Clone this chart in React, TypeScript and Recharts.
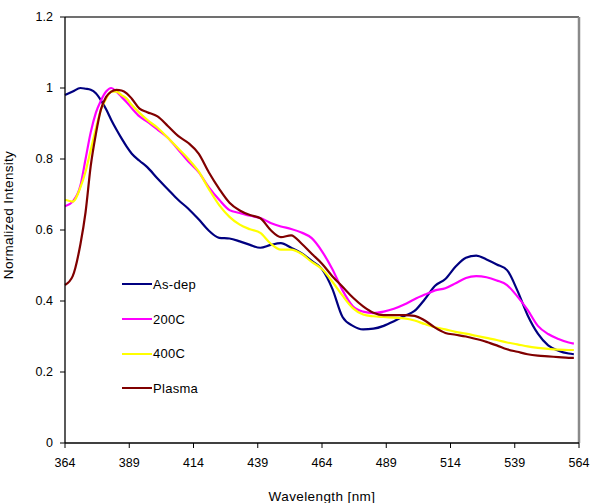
import React from 'react';
import { LineChart, Line, XAxis, YAxis, Legend, Label, ReferenceLine } from 'recharts';

const wavelengths = [364,367,370,372,374,376,378,380,382,384,386,388,390,393,396,400,404,408,412,416,420,424,428,432,436,440,444,448,452,456,460,464,468,472,476,480,484,488,492,496,500,504,508,512,516,520,524,528,532,536,540,544,548,552,556,560,562];

const asDep = [0.98,0.99,1.0,0.998,0.995,0.985,0.965,0.94,0.91,0.883,0.858,0.835,0.815,0.795,0.777,0.745,0.715,0.685,0.66,0.63,0.598,0.578,0.576,0.568,0.558,0.55,0.558,0.563,0.55,0.535,0.513,0.49,0.435,0.355,0.33,0.32,0.322,0.33,0.343,0.358,0.372,0.405,0.443,0.462,0.497,0.522,0.528,0.517,0.503,0.487,0.43,0.36,0.308,0.275,0.26,0.252,0.25];

const c200 = [0.667,0.68,0.725,0.8,0.875,0.93,0.965,0.99,1.0,0.99,0.975,0.96,0.943,0.92,0.905,0.883,0.86,0.827,0.793,0.763,0.72,0.685,0.656,0.648,0.64,0.634,0.62,0.61,0.603,0.593,0.577,0.54,0.49,0.43,0.385,0.37,0.366,0.37,0.378,0.39,0.405,0.418,0.43,0.436,0.45,0.465,0.47,0.467,0.458,0.445,0.413,0.375,0.33,0.307,0.293,0.283,0.28];

const c400 = [0.685,0.68,0.72,0.765,0.825,0.885,0.94,0.97,0.99,0.99,0.98,0.97,0.952,0.93,0.91,0.888,0.86,0.83,0.8,0.765,0.715,0.67,0.637,0.615,0.602,0.592,0.562,0.545,0.545,0.533,0.51,0.49,0.455,0.415,0.38,0.362,0.357,0.355,0.353,0.351,0.345,0.335,0.326,0.32,0.313,0.308,0.302,0.296,0.29,0.283,0.278,0.272,0.268,0.265,0.263,0.262,0.262];

const plasma = [0.445,0.47,0.56,0.65,0.78,0.87,0.94,0.975,0.99,0.995,0.993,0.985,0.97,0.942,0.932,0.92,0.893,0.865,0.845,0.815,0.762,0.716,0.677,0.655,0.642,0.633,0.6,0.58,0.585,0.562,0.533,0.505,0.47,0.44,0.41,0.385,0.367,0.36,0.36,0.36,0.358,0.345,0.325,0.31,0.305,0.3,0.293,0.285,0.275,0.264,0.257,0.25,0.246,0.244,0.242,0.24,0.24];

const xTicks = [364,389,414,439,464,489,514,539,564];
const yTicks = [0,0.2,0.4,0.6,0.8,1,1.2];

const series = [
  { key: 'asDep', name: 'As-dep', color: '#000080' },
  { key: 'c200', name: '200C', color: '#FF00FF' },
  { key: 'c400', name: '400C', color: '#FFFF00' },
  { key: 'plasma', name: 'Plasma', color: '#800000' },
];

const data = wavelengths.map((w, i) => ({
  w,
  asDep: asDep[i],
  c200: c200[i],
  c400: c400[i],
  plasma: plasma[i],
}));

const FONT = '"Liberation Sans", Arial, sans-serif';

const LegendContent = () => (
  <div style={{ fontFamily: FONT, fontSize: 13, color: '#000' }}>
    {series.map((s) => (
      <div key={s.key} style={{ display: 'flex', alignItems: 'center', height: 34.7 }}>
        <svg width={30} height={4} style={{ display: 'block' }}>
          <line x1={0} y1={2} x2={30} y2={2} stroke={s.color} strokeWidth={2} />
        </svg>
        <span style={{ marginLeft: 1, letterSpacing: 0.3 }}>{s.name}</span>
      </div>
    ))}
  </div>
);

export default function App() {
  return (
    <div style={{ position: 'absolute', left: 0, top: 0, background: '#fff' }}>
      <LineChart
        width={592}
        height={503}
        data={data}
        margin={{ top: 17, right: 13, bottom: 0, left: 0 }}
        style={{ fontFamily: FONT }}
      >
        <XAxis
          dataKey="w"
          type="number"
          domain={[364, 564]}
          ticks={xTicks}
          interval={0}
          height={60}
          tickSize={5}
          tickMargin={10}
          axisLine={{ stroke: '#000', strokeWidth: 1.3 }}
          tickLine={{ stroke: '#000' }}
          tick={{ fill: '#000', fontSize: 12.5, fontFamily: FONT }}
        >
          <Label
            value="Wavelength [nm]"
            position="insideBottom"
            offset={2}
            style={{ fill: '#000', fontSize: 13.5, fontFamily: FONT, letterSpacing: 0.4 }}
          />
        </XAxis>
        <YAxis
          domain={[0, 1.2]}
          ticks={yTicks}
          interval={0}
          width={65}
          tickSize={5}
          tickMargin={7}
          axisLine={{ stroke: '#000', strokeWidth: 1.3 }}
          tickLine={{ stroke: '#000' }}
          tick={{ fill: '#000', fontSize: 12.5, fontFamily: FONT }}
        >
          <Label
            value="Normalized Intensity"
            angle={-90}
            position="insideLeft"
            offset={8}
            dy={-15}
            style={{ fill: '#000', fontSize: 13.5, fontFamily: FONT, textAnchor: 'middle', letterSpacing: 0.3 }}
          />
        </YAxis>
        <ReferenceLine y={1.2} stroke="#404040" strokeWidth={1.5} />
        <ReferenceLine x={564} stroke="#8a8a8a" strokeWidth={2.5} />
        <Legend
          layout="vertical"
          align="center"
          verticalAlign="middle"
          content={<LegendContent />}
          wrapperStyle={{ left: 122, top: 267, width: 120, height: 140 }}
        />
        {series.map((s) => (
          <Line
            key={s.key}
            dataKey={s.key}
            name={s.name}
            type="monotone"
            stroke={s.color}
            strokeWidth={2.2}
            dot={false}
            activeDot={false}
            isAnimationActive={false}
          />
        ))}
      </LineChart>
    </div>
  );
}
